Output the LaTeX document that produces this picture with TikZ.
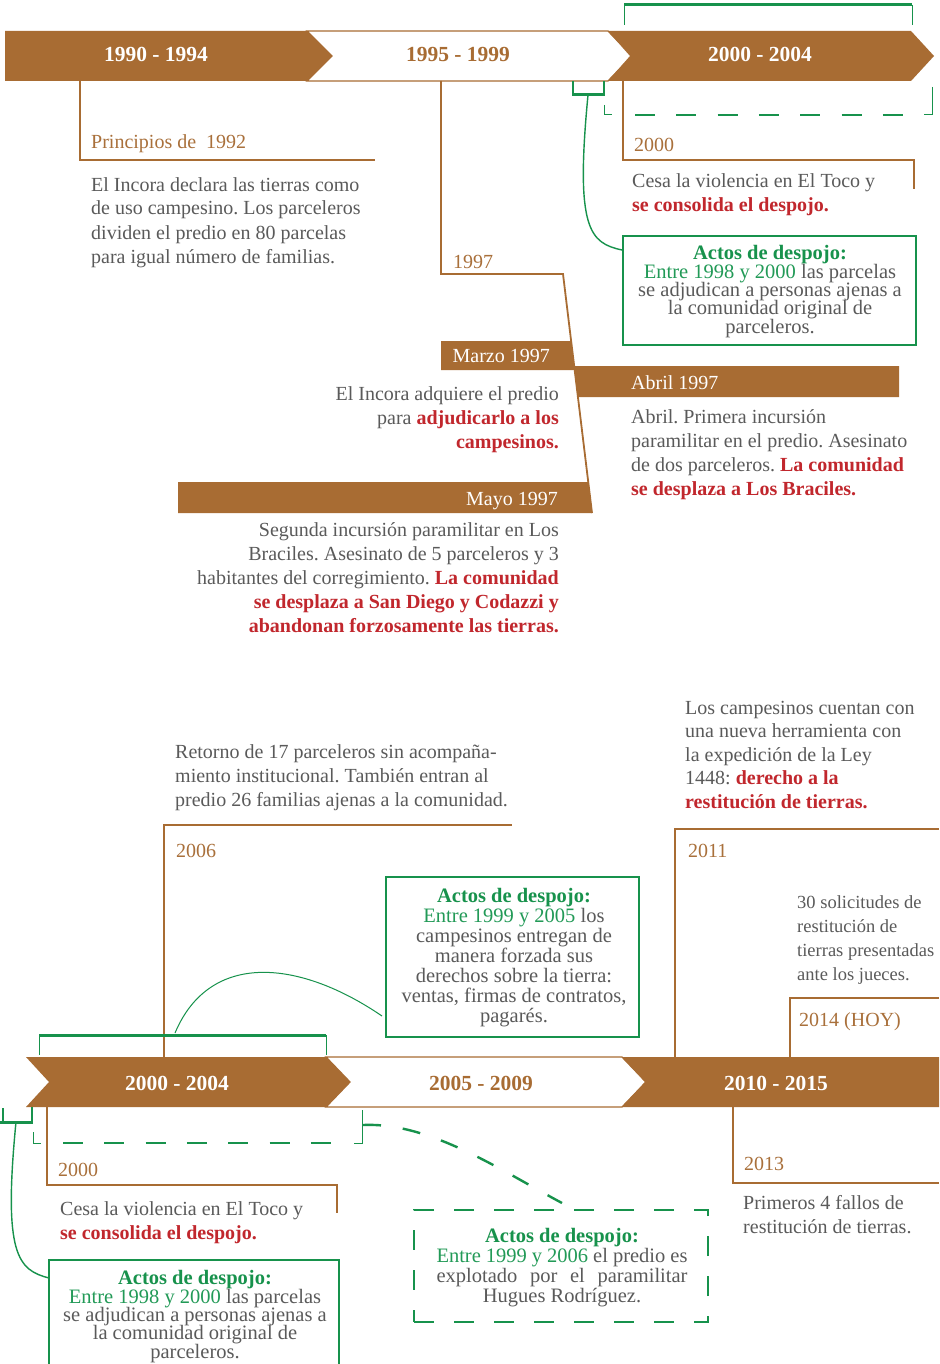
\documentclass[tikz,border=0pt]{standalone}
\usepackage{fontspec}
\setmainfont{Liberation Serif}
\definecolor{brn}{HTML}{A86C33}
\definecolor{brnt}{HTML}{A9703B}
\definecolor{grn}{HTML}{17924C}
\definecolor{grnt}{HTML}{229A57}
\definecolor{redc}{HTML}{C1272D}
\definecolor{gry}{HTML}{5A5A5A}
\newcommand\rtxt[1]{{\color{redc}\bfseries #1}}
\newcommand\gtxt[1]{{\color{grnt}#1}}
\newcommand\gbtxt[1]{{\color{grn}\bfseries #1}}
\tikzset{
  band/.style={fill=brn, draw=none},
  bandw/.style={fill=white, draw=brn, line width=1.3pt},
  tl/.style={draw=brn, line width=1.8pt},
  ttlw/.style={text=white, font={\bfseries\fontsize{21.5}{24}\selectfont}, inner sep=0pt, anchor=base},
  ttlb/.style={ttlw, text=brn},
  yr/.style={text=brnt, font={\fontsize{20}{24}\selectfont}, inner sep=0pt, anchor=base west},
  yrw/.style={yr, text=white},
  body/.style={text=gry, font={\fontsize{20}{24}\selectfont}, inner sep=0pt, align=left, anchor=base west},
  bodyr/.style={body, align=right, anchor=base east},
  gbox/.style={draw=grn, line width=1.6pt, inner sep=0pt},
  btxt/.style={text=gry, font={\fontsize{20.5}{18.3}\selectfont\lineskiplimit=-30pt\lineskip=0pt}, align=center, inner sep=0pt, anchor=base},
  btxtw/.style={btxt, font={\fontsize{20.5}{20}\selectfont\lineskiplimit=-30pt\lineskip=0pt}},
  gdash/.style={draw=grn, line width=2.6pt, dash pattern=on 20pt off 21.3pt},
  gthin/.style={draw=grn, line width=1pt},
  gmed/.style={draw=grn, line width=2pt},
  gthick/.style={draw=grn, line width=3pt},
  gcurve/.style={draw=grn, line width=1.4pt},
}
\begin{document}
\frenchspacing
\begin{tikzpicture}[x=1pt,y=-1pt]
\useasboundingbox (0,0) rectangle (939,1364);
\fill[white] (0,0) rectangle (939,1364);
% note: multi-line nodes are placed by the baseline of their LAST line

% ================= TOP TIMELINE =================
\draw[bandw] (307,31) -- (608,31) -- (632,56) -- (608,81) -- (307,81) -- (332,56) -- cycle;
\fill[band] (5,31) -- (307,31) -- (332,56) -- (307,81) -- (5,81) -- cycle;
\fill[band] (608,31) -- (911,31) -- (934,56) -- (911,81) -- (608,81) -- (630,56) -- cycle;
\node[ttlw] (t1) at (156,62) {1990 - 1994};
\node[ttlb] (t2) at (458,62) {1995 - 1999};
\node[ttlw] (t3) at (760,62) {2000 - 2004};

% 1992
\draw[tl] (80,81) -- (80,160) -- (375,160);
\node[yr] (y1992) at (91,149) {Principios de\ \ 1992};
\node[body] (b1992) at (91,263) {El Incora declara las tierras como\\de uso campesino. Los parceleros\\dividen el predio en 80 parcelas\\para igual número de familias.};

% 1997
\draw[tl] (441,81) -- (441,274) -- (563,274) -- (592,513);
\node[yr] (y1997) at (453,268) {1997};
\fill[brn] (441,341) -- (571,341) -- (575,370) -- (441,370) -- cycle;
\node[yrw, anchor=base east] (marzo) at (550,362) {Marzo 1997};
\fill[brn] (574,366) -- (899,366) -- (899,397) -- (578,397) -- cycle;
\node[yrw] (abril) at (631,389) {Abril 1997};
\fill[brn] (178,482) -- (588,482) -- (592,513) -- (178,513) -- cycle;
\node[yrw, anchor=base east] (mayo) at (558,505) {Mayo 1997};
\node[bodyr] (bmarzo) at (559,448) {El Incora adquiere el predio\\para \rtxt{adjudicarlo a los}\\\rtxt{campesinos.}};
\node[body] (babril) at (631,495) {Abril. Primera incursión\\paramilitar en el predio. Asesinato\\de dos parceleros. \rtxt{La comunidad}\\\rtxt{se desplaza a Los Braciles.}};
\node[bodyr] (bmayo) at (559,632) {Segunda incursión paramilitar en Los\\Braciles. Asesinato de 5 parceleros y 3\\habitantes del corregimiento. \rtxt{La comunidad}\\\rtxt{se desplaza a San Diego y Codazzi y}\\\rtxt{abandonan forzosamente las tierras.}};

% 2000 (top)
\draw[tl] (623,81) -- (623,160) -- (914,160) -- (914,189);
\node[yr] (y2000a) at (634,152) {2000};
\node[body] (b2000a) at (632,212) {Cesa la violencia en El Toco y\\\rtxt{se consolida el despojo.}};

% green brackets top
\draw[gthin] (624,25) -- (624,5);
\draw[gthin] (912,25) -- (912,5);
\draw[gthick] (624,5) -- (912,5);
\draw[gmed] (573,81) -- (573,95);
\draw[gmed] (604,81) -- (604,95);
\draw[gthick] (572,95) -- (605,95);
\coordinate (brk1) at (588,95);
\draw[gthin] (604,105) -- (604,115) -- (612,115);
\draw[gthin] (932,87) -- (932,115) -- (924,115);
\draw[gdash] (635,115) -- (915,115);

\node[gbox, minimum width=293pt, minimum height=109pt, anchor=north west] (gb1) at (622,235) {};
\coordinate (gb1in) at (622,250);
\draw[gcurve] (brk1) .. controls (575,230) and (590,243) .. (gb1in);
\node[btxt] (tb1) at (770,333) {\gbtxt{Actos de despojo:}\\\gtxt{Entre 1998 y 2000} las parcelas\\se adjudican a personas ajenas a\\la comunidad original de\\parceleros.};

% ================= BOTTOM TIMELINE =================
\draw[bandw] (326,1057) -- (622,1057) -- (646,1082) -- (622,1107) -- (326,1107) -- (350,1082) -- cycle;
\fill[band] (26,1057) -- (326,1057) -- (350,1082) -- (326,1107) -- (26,1107) -- (49,1082) -- cycle;
\fill[band] (622,1057) -- (939,1057) -- (939,1107) -- (622,1107) -- (645,1082) -- cycle;
\node[ttlw] (t4) at (177,1090) {2000 - 2004};
\node[ttlb] (t5) at (481,1090) {2005 - 2009};
\node[ttlw] (t6) at (776,1090) {2010 - 2015};

% 2006
\node[body] (b2006) at (175,806) {Retorno de 17 parceleros sin acompaña-\\miento institucional. También entran al\\predio 26 familias ajenas a la comunidad.};
\draw[tl] (164,1057) -- (164,825) -- (512,825);
\node[yr] (y2006) at (176,857) {2006};

% green bracket above 2000-2004
\draw[gthin] (39,1035) -- (39,1055);
\draw[gthin] (326,1035) -- (326,1055);
\draw[gthick] (39,1035) -- (326,1035);
\coordinate (arc0) at (175,1033);

\node[gbox, minimum width=253pt, minimum height=160pt, anchor=north west] (gb2) at (385,876) {};
\coordinate (gb2in) at (382,1016);
\draw[gthin] (arc0) .. controls (210,950) and (300,960) .. (gb2in);
\node[btxtw] (tb2) at (514,1022) {\gbtxt{Actos de despojo:}\\\gtxt{Entre 1999 y 2005} los\\campesinos entregan de\\manera forzada sus\\derechos sobre la tierra:\\ventas, firmas de contratos,\\pagarés.};

% 2000 (bottom)
\draw[tl] (47,1107) -- (47,1185) -- (337,1185) -- (337,1213);
\node[yr] (y2000b) at (58,1176) {2000};
\node[body] (b2000b) at (60,1239) {Cesa la violencia en El Toco y\\\rtxt{se consolida el despojo.}};

% small bracket bottom-left and curve
\draw[gmed] (3,1108) -- (3,1122);
\draw[gmed] (32,1107) -- (32,1122);
\draw[gthick] (0,1122) -- (33,1122);
\coordinate (brk2) at (16,1122);
\draw[gbox] (49,1364) -- (49,1260) -- (339,1260) -- (339,1364);
\coordinate (gb3in) at (49,1278);
\draw[gcurve] (brk2) .. controls (3,1255) and (18,1270) .. (gb3in);
\node[btxt] (tb3) at (195,1358) {\gbtxt{Actos de despojo:}\\\gtxt{Entre 1998 y 2000} las parcelas\\se adjudican a personas ajenas a\\la comunidad original de\\parceleros.};

% dashed bracket below 2000-2004
\draw[gthin] (33,1132) -- (33,1143) -- (41,1143);
\draw[gthin] (362,1110) -- (362,1143) -- (354,1143);
\draw[gdash] (63,1143) -- (345,1143);
\coordinate (dbr) at (363,1125);

% dashed box
\node[draw=grn, line width=2pt, dash pattern=on 20pt off 20pt, minimum width=294pt, minimum height=112pt, anchor=north west, inner sep=0pt] (db) at (413,1209) {};
\coordinate (dbin) at (562,1203);
\draw[gdash, line width=2.4pt, dash pattern=on 18pt off 22pt] (dbr) .. controls (430,1122) and (500,1170) .. (dbin);
\node[btxtw] (tdb) at (562,1302) {\gbtxt{Actos de despojo:}\\\makebox[251pt][s]{\gtxt{Entre 1999 y 2006} el predio es}\\\makebox[251pt][s]{explotado por el paramilitar}\\Hugues Rodríguez.};

% 2011
\draw[tl] (675,1057) -- (675,829) -- (939,829);
\node[yr] (y2011) at (688,857) {2011};
\node[body, font={\fontsize{20}{23.5}\selectfont}] (b2011) at (685,808) {Los campesinos cuentan con\\una nueva herramienta con\\la expedición de la Ley\\1448: \rtxt{derecho a la}\\\rtxt{restitución de tierras.}};

% 2014
\draw[tl] (790,1057) -- (790,998) -- (939,998);
\node[yr] (y2014) at (799,1026) {2014 (HOY)};
\node[body, font={\fontsize{18.5}{24}\selectfont}] (b2014) at (797,980) {30 solicitudes de\\restitución de\\tierras presentadas\\ante los jueces.};

% 2013
\draw[tl] (733,1107) -- (733,1183) -- (939,1183);
\node[yr] (y2013) at (744,1170) {2013};
\node[body] (b2013) at (743,1233) {Primeros 4 fallos de\\restitución de tierras.};
\end{tikzpicture}
\end{document}
